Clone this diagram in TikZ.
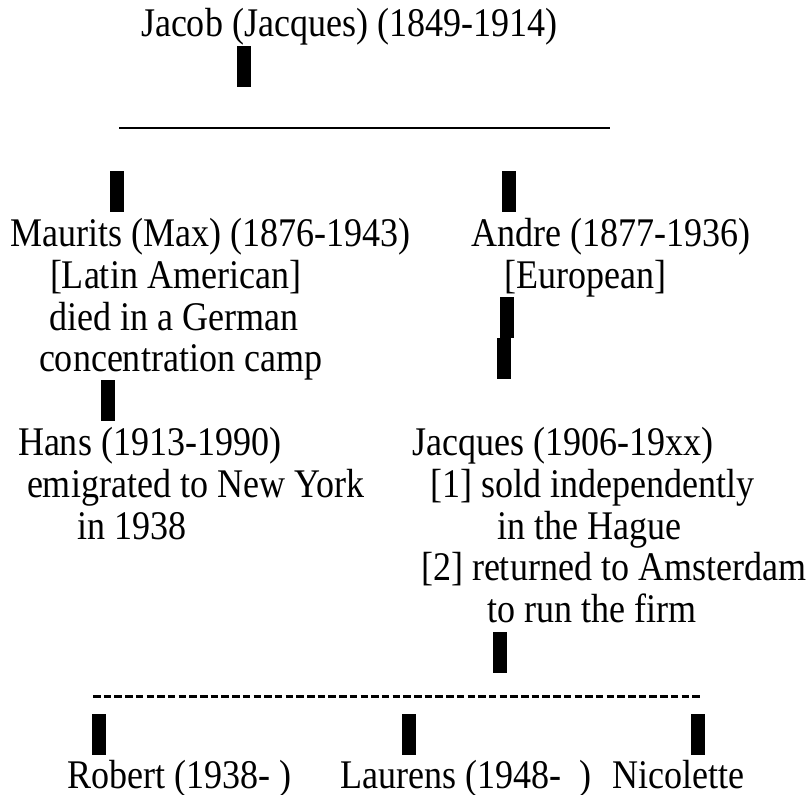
\documentclass[tikz,border=0pt]{standalone}
\usepackage{fontspec}
\setmainfont{Liberation Serif}[FakeStretch=0.885]
\begin{document}
\begin{tikzpicture}[x=1pt,y=1pt,
  txt/.style={anchor=base west, inner sep=0pt, outer sep=0pt, font=\fontsize{40.7}{41.8}\selectfont},
  bar/.style={fill=black, draw=none, inner sep=0pt, outer sep=0pt, minimum width=13.5pt, minimum height=41pt, anchor=north west},
  rule/.style={line width=1.8pt},
  dashrule/.style={line width=2.7pt, dash pattern=on 7.5pt off 3.2pt}]
\useasboundingbox (0,0) rectangle (810,-794);
% row 0
\node[txt] (jacob) at (141,-37) {Jacob (Jacques) (1849-1914)};
\node[bar] (b1) at (237,-46) {};
% row 2 underscore line
\coordinate (l1) at (119,-127.7);
\coordinate (r1) at (610,-127.7);
\draw[rule] (l1) -- (r1);
% row 4
\node[bar] (b2) at (110,-171) {};
\node[bar] (b3) at (502,-171) {};
% row 5-8
\node[txt] (maurits) at (10,-246.5) {Maurits (Max) (1876-1943)};
\node[txt] (andre) at (471,-246.5) {Andre (1877-1936)};
\node[txt] (maurits2) at (50,-288.3) {[Latin American]};
\node[txt] (andre2) at (504,-288.3) {[European]};
\node[txt] (maurits3) at (49,-330.1) {died in a German};
\node[bar] (b4) at (500,-296.5) {};
\node[txt] (maurits4) at (39,-371.8) {concentration camp};
\node[bar] (b5) at (497,-338.2) {};
% row 9
\node[bar] (b6) at (101,-380) {};
% row 10-14
\node[txt] (hans) at (18,-455.6) {Hans (1913-1990)};
\node[txt] (jacques) at (412,-455.6) {Jacques (1906-19xx)};
\node[txt] (hans2) at (27,-497.2) {emigrated to New York};
\node[txt] (jacques2) at (430,-497.2) {[1] sold independently};
\node[txt] (hans3) at (77,-539) {in 1938};
\node[txt] (jacques3) at (497,-539) {in the Hague};
\node[txt] (jacques4) at (421,-580.7) {[2] returned to Amsterdam};
\node[txt] (jacques5) at (487,-622.5) {to run the firm};
% row 15
\node[bar] (b7) at (493,-631.5) {};
% row 16 dashed line
\coordinate (l2) at (93,-696.7);
\coordinate (r2) at (700,-696.7);
\draw[dashrule] (l2) -- (r2);
% row 17
\node[bar] (b8) at (92,-714.3) {};
\node[bar] (b9) at (402,-714.3) {};
\node[bar] (b10) at (691,-714.3) {};
% row 18
\node[txt] (robert) at (67,-788.5) {Robert (1938- )};
\node[txt] (laurens) at (340,-788.5) {Laurens (1948-\ \ )};
\node[txt] (nicolette) at (612,-788.5) {Nicolette};
\end{tikzpicture}
\end{document}
